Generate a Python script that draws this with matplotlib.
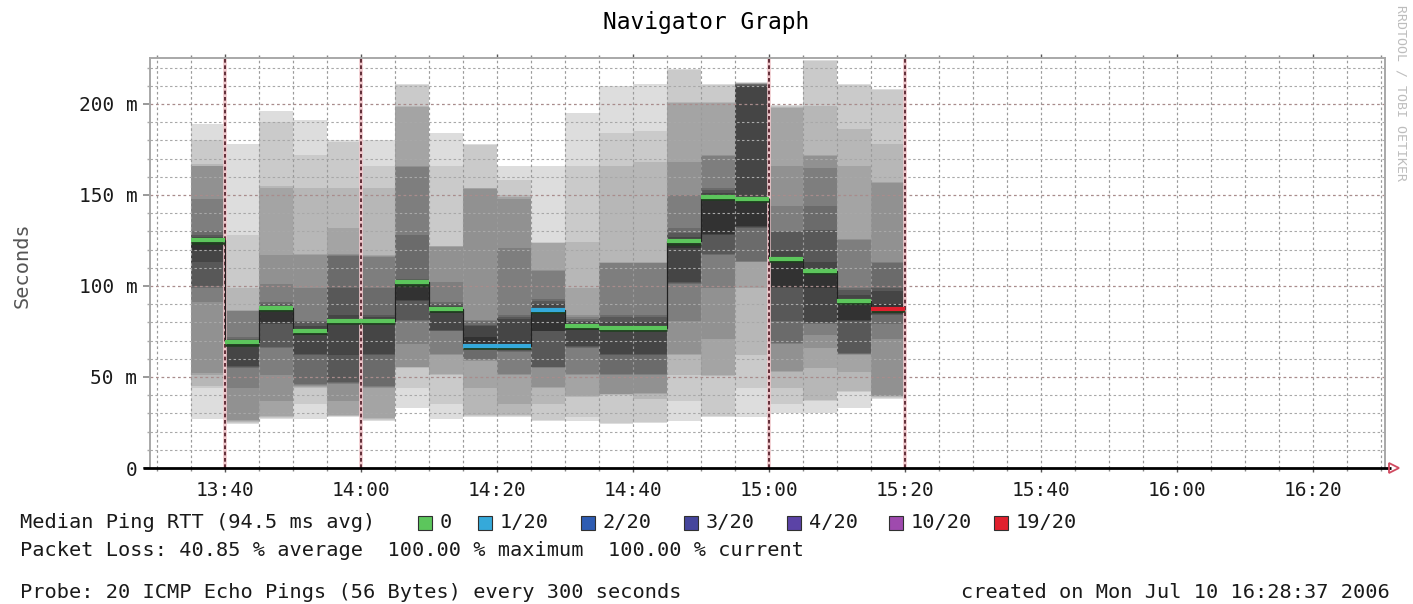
import matplotlib
matplotlib.use("Agg")
import matplotlib.pyplot as plt
from matplotlib.patches import Rectangle
from matplotlib.ticker import FixedLocator, FixedFormatter, MultipleLocator
import numpy as np

W, H = 1413, 604
FONT = "DejaVu Sans Mono"

# ---------------- data ----------------
bin_end = ["13:40", "13:45", "13:50", "13:55", "14:00", "14:05", "14:10",
           "14:15", "14:20", "14:25", "14:30", "14:35", "14:40", "14:45",
           "14:50", "14:55", "15:00", "15:05", "15:10", "15:15", "15:20"]
step_min = 5

# 20 sorted ping RTTs (ms) per 5-minute bin
pings = [
    [27, 44, 45, 51, 52, 91, 99, 100, 113, 120, 126, 127, 128, 130, 148, 166, 166, 167, 180, 189],
    [24, 25, 25.5, 26, 26.5, 44, 55, 55.5, 56, 67, 69.5, 70, 71, 72, 86, 86.5, 87, 99, 128, 178],
    [27, 27.5, 28, 28.5, 37, 51, 66, 66.5, 79, 80, 87, 89, 90, 91, 101, 117, 154, 155, 190, 196],
    [27, 35, 44, 44.5, 45, 45.5, 46, 62, 62.5, 73, 76, 78, 80, 81, 99, 117, 117.5, 154, 172, 191],
    [28, 28.3, 28.6, 29, 37, 46, 46.5, 47, 62, 79, 82, 84, 99, 116.5, 117, 117.5, 132, 154, 179, 180],
    [26, 26.5, 27, 27.5, 44, 44.5, 45, 62, 62.5, 79, 82, 83, 84, 99, 116, 116.5, 117, 154, 166, 180],
    [33, 44, 55, 55.5, 55.7, 68, 81, 81.5, 92, 92.5, 100, 102, 104, 128, 165.5, 166, 198.5, 199, 210.5, 211],
    [27, 35, 51, 51.5, 62, 62.5, 75, 75.5, 76, 85, 88, 89, 90, 91, 102, 121.5, 121.8, 122, 166, 184],
    [28, 28.5, 29, 44, 59, 59.5, 59.8, 65, 65.5, 66.5, 72, 78, 78.5, 81, 81.5, 153.5, 153.7, 154, 177.5, 178],
    [28, 28.5, 29, 35, 51, 51.5, 64, 64.5, 65, 66, 69, 82, 83, 84, 121, 148, 149, 150, 158, 166],
    [26, 26.5, 35, 44, 44.5, 55, 55.3, 55.6, 75, 75.5, 88, 90, 92, 93, 108.5, 109, 123.5, 123.8, 124, 166],
    [26, 28, 39, 39.5, 51, 51.5, 66, 66.5, 67, 76, 79, 80, 81, 82, 83, 84, 99, 124, 166, 195],
    [24, 24.5, 40, 40.5, 40.8, 51, 51.5, 62, 62.5, 75, 78, 80, 83, 84, 112.5, 112.8, 113, 166, 184, 210],
    [25, 25.5, 38, 40.5, 41, 51, 51.5, 62, 62.5, 75, 78, 80, 83, 84, 112.5, 112.8, 113, 168, 185, 211],
    [26, 37, 51, 62, 62.5, 81, 101, 101.5, 102, 121, 126, 127, 129, 132, 150, 168, 200.5, 201, 218.5, 219],
    [28, 28.5, 50.5, 51, 71, 99, 117, 117.5, 128, 128.5, 150, 151, 153, 154, 171.5, 172, 200.5, 201, 210.5, 211],
    [28, 44, 62, 99, 113, 113.3, 113.6, 132, 132.5, 133, 149, 210, 210.5, 210.8, 211, 211.2, 211.4, 211.6, 211.8, 212],
    [30, 35, 44, 53, 53.5, 68, 68.5, 81, 99, 99.5, 116, 119, 129.5, 130, 144, 166, 198, 198.5, 199, 199.5],
    [30, 37, 37.5, 55, 66, 73, 79, 79.5, 80, 99, 109, 113, 131, 144, 165, 171.5, 172, 199, 223.5, 224],
    [33, 42, 42.5, 53, 62, 62.5, 62.8, 63, 81, 81.5, 93, 95, 98, 99, 125.5, 126, 166, 186, 210.5, 211],
    [38, 38.5, 39, 39.5, 39.8, 71, 79, 84, 84.5, 85, 90, 97, 99, 112.5, 113, 156.5, 157, 178, 207.5, 208],
]
median_rtt = [125, 69, 88, 75.5, 81, 81, 102, 87.5, 67, 67, 87, 78, 77, 77,
              124.5, 149, 148, 115, 108.5, 92, 87.5]
loss_count = [0, 0, 0, 0, 0, 0, 0, 0, 1, 1, 1, 0, 0, 0, 0, 0, 0, 0, 0, 0, 19]

loss_levels = [0, 1, 2, 3, 4, 10, 19]
loss_labels = ["0", "1/20", "2/20", "3/20", "4/20", "10/20", "19/20"]
loss_colors = ["#5cc65c", "#35a9da", "#2e5cb2", "#45459c", "#5b43a6", "#9f4aae", "#e0202e"]

xtick_labels = ["13:40", "14:00", "14:20", "14:40", "15:00", "15:20", "15:40", "16:00", "16:20"]
highlight_times = ["13:40", "14:00", "15:00", "15:20"]
ytick_vals = [0, 50, 100, 150, 200]
ytick_labels = ["0", "50 m", "100 m", "150 m", "200 m"]

title = "Navigator Graph"
ylabel = "Seconds"
legend_title = "Median Ping RTT (94.5 ms avg)"
loss_line = "Packet Loss: 40.85 % average  100.00 % maximum  100.00 % current"
probe_line = "Probe: 20 ICMP Echo Pings (56 Bytes) every 300 seconds"
created_line = "created on Mon Jul 10 16:28:37 2006"
watermark = "RRDTOOL / TOBI OETIKER"


def tmin(s):
    h, m = map(int, s.split(":"))
    return (h - 13) * 60 + m


ends = np.array([tmin(t) for t in bin_end], dtype=float)
starts = ends - step_min
P = np.array(pings, dtype=float)
med = np.array(median_rtt, dtype=float)

# ---------------- figure ----------------
fig = plt.figure(figsize=(W / 100, H / 100), dpi=100)
fig.patch.set_facecolor("white")
L, R, T, B = 150, 1385, 58, 468
ax = fig.add_axes([L / W, 1 - B / H, (R - L) / W, (B - T) / H])
ax.set_facecolor("white")

x_px = 6.8  # px per minute
x0 = tmin("13:40") - (225 - L) / x_px
x1 = tmin("13:40") + (R - 225) / x_px
ax.set_xlim(x0, x1)
ax.set_ylim(0, (B - T) / 1.82)

# smoke (smokeping style: pair i spans ping[i] .. ping[n-1-i])
n = P.shape[1]
half = n // 2
for i in range(half):
    g = int(190 / half * (half - (i + 1))) + 50
    col = "#%02x%02x%02x" % (g, g, g)
    lo = P[:, i]
    hi = P[:, n - 1 - i]
    ax.bar(starts, hi - lo, bottom=lo, width=step_min, align="edge",
           color=col, linewidth=0, antialiased=False, zorder=1)

# grid
minor_x = np.arange(np.ceil(x0 / 5) * 5, x1, 5)
hl = [tmin(t) for t in highlight_times]
for xv in minor_x:
    if xv in hl:
        continue
    ax.axvline(xv, color="#9a9a9a", lw=0.85, dashes=(2.2, 2.2), zorder=2)
for yv in np.arange(10, ax.get_ylim()[1], 10):
    if yv % 50 == 0:
        ax.axhline(yv, color="#a88c8c", lw=0.9, dashes=(2.2, 2.2), zorder=2)
    else:
        ax.axhline(yv, color="#a8a8a8", lw=0.8, dashes=(2.2, 2.2), zorder=2)
for xv in hl:
    ax.axvline(xv, color="#f0c8cc", lw=2.6, zorder=2)
    ax.axvline(xv, color="#4a1420", lw=1.2, dashes=(2.2, 1.6), zorder=2.1)

# median line: thin dark steps, then loss-coloured segments
edges = np.append(starts, ends[-1])
ax.stairs(med, edges, baseline=None, color="#202020", lw=0.9, zorder=3)
seg_cols = [loss_colors[loss_levels.index(c)] for c in loss_count]
ax.hlines(med - 1.3, starts, ends, colors="#1f3f1f", lw=1.8, zorder=3.5)
ax.hlines(med, starts, ends, colors=seg_cols, lw=3.0, zorder=4)

# axes frame
for s in ["left", "top", "right"]:
    ax.spines[s].set_color("#a8a8a8")
    ax.spines[s].set_linewidth(1.4)
ax.spines["bottom"].set_visible(False)
ax.plot([-0.006, 1.005], [0, 0], transform=ax.transAxes, color="black",
        lw=2.0, clip_on=False, zorder=6, solid_capstyle="butt")
ax.plot([1.0075], [0], transform=ax.transAxes, marker=">", ms=7,
        mfc="none", mec="#d04a60", mew=1.3, clip_on=False, zorder=7)

# ticks
ax.xaxis.set_major_locator(FixedLocator([tmin(t) for t in xtick_labels]))
ax.xaxis.set_major_formatter(FixedFormatter(xtick_labels))
ax.xaxis.set_minor_locator(MultipleLocator(5))
ax.yaxis.set_major_locator(FixedLocator(ytick_vals))
ax.yaxis.set_major_formatter(FixedFormatter(ytick_labels))
ax.yaxis.set_minor_locator(MultipleLocator(10))
ax.tick_params(axis="x", which="major", length=3, width=1, color="#555",
               pad=6, labelsize=14, labelcolor="#1a1a1a", top=True)
ax.tick_params(axis="x", which="minor", length=2, width=1, color="#888", top=True)
ax.tick_params(axis="y", which="major", length=5, width=1.2, color="#888",
               pad=4, labelsize=14, labelcolor="#1a1a1a")
ax.tick_params(axis="y", which="minor", length=2, width=1, color="#aaa")
for lab in ax.get_xticklabels() + ax.get_yticklabels():
    lab.set_fontfamily(FONT)


def ftext(x, y, s, **kw):
    kw.setdefault("family", FONT)
    kw.setdefault("va", "center")
    kw.setdefault("color", "#1a1a1a")
    return fig.text(x / W, 1 - y / H, s, **kw)


ftext(706, 23, title, ha="center", size=16.5, color="black")
ftext(22, 265, ylabel, ha="center", rotation=90, size=14.6, color="#555555")
ftext(1401, 5, watermark, ha="center", va="top", rotation=270, size=9.5,
      color="#bdbdbd")

ftext(20, 523, legend_title, ha="left", size=14.6)
sq_x = [418, 478, 581, 684, 787, 889, 994]
for xs, lab, c in zip(sq_x, loss_labels, loss_colors):
    fig.add_artist(Rectangle((xs / W, 1 - 530 / H), 14 / W, 14 / H,
                             transform=fig.transFigure, facecolor=c,
                             edgecolor="#303030", lw=0.8))
    ftext(xs + 22, 523, lab, ha="left", size=14.6)

ftext(20, 550, loss_line, ha="left", size=14.6)
ftext(20, 592, probe_line, ha="left", size=14.6)
ftext(1390, 592, created_line, ha="right", size=14.6)

fig.savefig("out.png", dpi=100, facecolor="white")
